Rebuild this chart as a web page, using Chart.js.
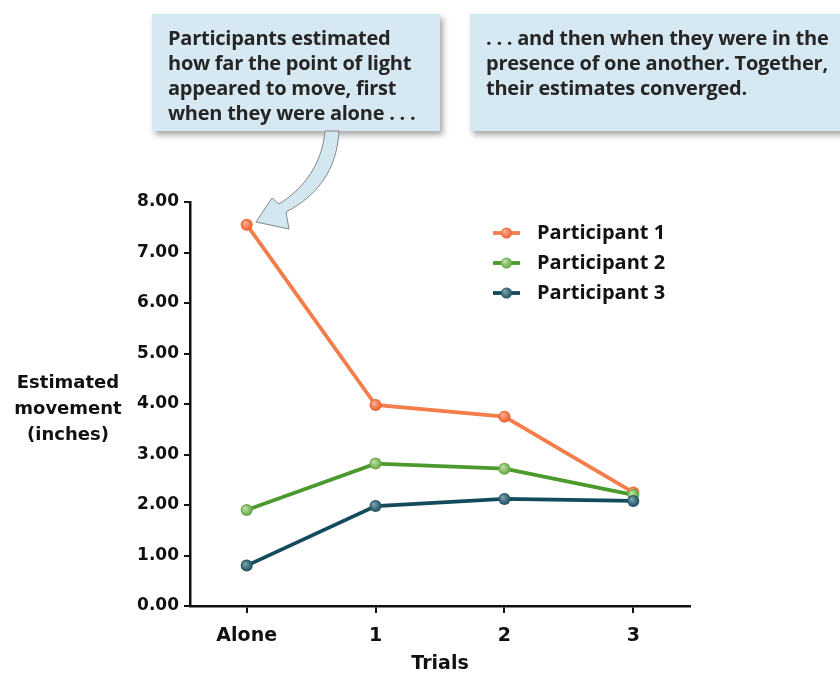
<!DOCTYPE html>
<html>
<head>
<meta charset="utf-8">
<script src="https://cdn.jsdelivr.net/npm/chart.js@4"></script>
<style>
  body { margin: 0; background: #fff; }
  #wrap { position: relative; width: 840px; height: 675px; overflow: hidden; }
  #productChart { position: absolute; left: 0; top: 0; }
  .box {
    position: absolute;
    background: #d6e8f1;
    box-shadow: 3px 4px 6px rgba(0, 0, 0, 0.35);
    color: #262626;
    font-family: 'Open Sans', sans-serif;
    font-weight: bold;
    font-size: 20px;
    line-height: 25px;
    letter-spacing: -0.25px;
    box-sizing: border-box;
    padding: 11px 0 0 16px;
    white-space: nowrap;
  }
  .ytitle {
    position: absolute;
    left: 0; top: 369px; width: 136px;
    text-align: center;
    font-family: 'DejaVu Sans', sans-serif;
    font-weight: bold;
    font-size: 18px;
    line-height: 26px;
    color: #111;
  }
  svg { position: absolute; left: 0; top: 0; }
</style>
</head>
<body>
<div id="wrap">
  <canvas id="productChart" width="840" height="675"></canvas>
  <div class="box" style="left:152px; top:14px; width:288px; height:117px;">Participants estimated<br>how far the point of light<br>appeared to move, first<br>when they were alone . . .</div>
  <div class="box" style="left:470px; top:14px; width:390px; height:117px;">. . . and then when they were in the<br>presence of one another. Together,<br>their estimates converged.</div>
  <svg width="840" height="675">
    <path d="M339,131 C337,170 317,196 286,212 L289,229 L256,222 L272,198 L279,204 C303,189 322,165 325,131 Z"
          fill="#d3e7f0" stroke="#7a7a7a" stroke-width="0.9"/>
  </svg>
  <div class="ytitle">Estimated<br>movement<br>(inches)</div>
</div>
<script>
document.addEventListener("DOMContentLoaded", function() {
    const trials = ['Alone', '1', '2', '3']
    const names = ['Participant 1', 'Participant 2', 'Participant 3']
    const p1 = [7.55, 3.98, 3.75, 2.25]
    const p2 = [1.90, 2.82, 2.72, 2.20]
    const p3 = [0.80, 1.98, 2.12, 2.08]
    const yTicks = [0, 1, 2, 3, 4, 5, 6, 7, 8]

    const yFont = { family: "'DejaVu Sans', sans-serif", size: 17, weight: 'bold' }
    const xFont = { family: "'DejaVu Sans', sans-serif", size: 19, weight: 'bold' }

    const ballFill = (light, dark) => (context) => {
        const chart = context.chart
        const xs = chart.scales.x
        const ys = chart.scales.y
        if (context.type !== 'data' || !xs || !ys || !context.parsed) {
            return dark
        }
        const px = xs.getPixelForValue(context.parsed.x)
        const py = ys.getPixelForValue(context.parsed.y)
        if (!isFinite(px) || !isFinite(py)) {
            return dark
        }
        const g = chart.ctx.createRadialGradient(px - 2, py - 2, 0.5, px, py, 6)
        g.addColorStop(0, light)
        g.addColorStop(1, dark)
        return g
    }

    const makeSet = (label, values, line, light, dark, order) => ({
        label: label,
        data: values.map((v, i) => ({ x: i, y: v })),
        borderColor: line,
        borderWidth: 3.8,
        pointRadius: 6,
        pointBorderWidth: 0,
        pointBackgroundColor: ballFill(light, dark),
        light: light,
        dark: dark,
        tension: 0,
        order: order,
    })

    const datasets = [
        makeSet(names[0], p1, '#f47d4a', '#fbb08e', '#ec5b2b', 3),
        makeSet(names[1], p2, '#4c9a2d', '#bfe0a4', '#5ea33e', 2),
        makeSet(names[2], p3, '#134a5c', '#7ba2ad', '#1b4c5d', 1),
    ]

    // legend drawn inside the plot, right side
    const sideLegend = {
        id: 'sideLegend',
        afterDatasetsDraw(chart) {
            const { ctx } = chart
            chart.data.datasets.forEach((ds, i) => {
                const x = 493
                const y = 233 + i * 30
                ctx.save()
                ctx.strokeStyle = ds.borderColor
                ctx.lineWidth = 3.8
                ctx.beginPath()
                ctx.moveTo(x, y)
                ctx.lineTo(x + 27, y)
                ctx.stroke()
                const g = ctx.createRadialGradient(x + 11.5, y - 2, 0.5, x + 13.5, y, 6)
                g.addColorStop(0, ds.light)
                g.addColorStop(1, ds.dark)
                ctx.fillStyle = g
                ctx.beginPath()
                ctx.arc(x + 13.5, y, 5.5, 0, Math.PI * 2)
                ctx.fill()
                ctx.fillStyle = '#111'
                ctx.font = "bold 20px 'Open Sans', sans-serif"
                ctx.textBaseline = 'middle'
                ctx.fillText(ds.label, 537, y)
                ctx.restore()
            })
        }
    }

    const config = {
        type: 'line',
        data: { datasets: datasets },
        options: {
            responsive: false,
            animation: false,
            devicePixelRatio: 1,
            layout: {
                padding: { left: 130, right: 150, top: 202, bottom: 0 }
            },
            scales: {
                x: {
                    type: 'linear',
                    min: -0.44,
                    max: 3.44,
                    afterBuildTicks: (scale) => {
                        scale.ticks = trials.map((t, i) => ({ value: i }))
                    },
                    afterFit: (scale) => { scale.height = 69 },
                    grid: {
                        display: true,
                        drawOnChartArea: false,
                        tickLength: 7,
                        color: '#111',
                        lineWidth: 2,
                    },
                    border: { display: true, color: '#111', width: 2.5 },
                    ticks: {
                        color: '#111',
                        font: xFont,
                        padding: 12,
                        maxRotation: 0,
                        callback: (v) => trials[Math.round(v)],
                    },
                    title: {
                        display: true,
                        text: 'Trials',
                        color: '#111',
                        font: xFont,
                        padding: { top: 2, bottom: 0 },
                    },
                },
                y: {
                    min: 0,
                    max: 8,
                    afterBuildTicks: (scale) => {
                        scale.ticks = yTicks.map((v) => ({ value: v }))
                    },
                    afterFit: (scale) => { scale.width = 60 },
                    grid: {
                        display: true,
                        drawOnChartArea: false,
                        tickLength: 6,
                        color: '#111',
                        lineWidth: 2,
                    },
                    border: { display: true, color: '#111', width: 2.5 },
                    ticks: {
                        color: '#111',
                        font: yFont,
                        padding: 5,
                        callback: (v) => v.toFixed(2),
                    },
                },
            },
            plugins: {
                legend: { display: false },
                tooltip: { enabled: false },
            },
        },
        plugins: [sideLegend],
    }

    new Chart(document.getElementById('productChart'), config)
});
</script>
</body>
</html>
